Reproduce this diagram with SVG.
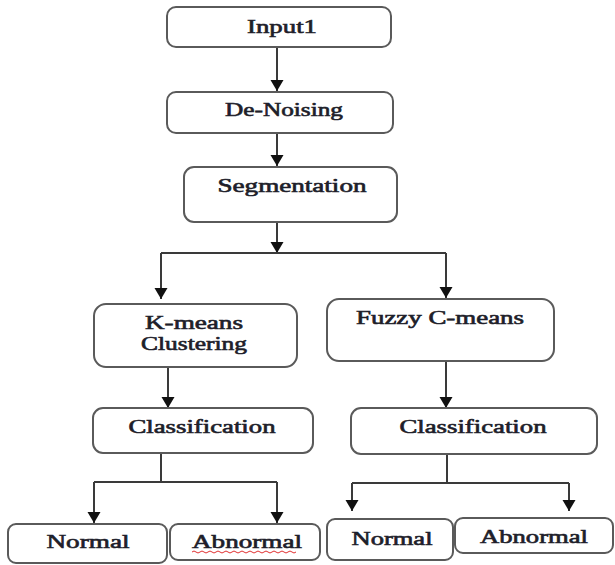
<svg xmlns="http://www.w3.org/2000/svg" width="615" height="565" viewBox="0 0 615 565">
<style>
.box{fill:#fff;stroke:#5a5a5a;stroke-width:2}
.lbl{font-family:"Liberation Serif","Times New Roman",serif;font-size:18px;font-weight:normal;fill:#1e1e2a;stroke:#1e1e2a;stroke-width:0.6;text-anchor:middle}
.con{fill:none;stroke:#3a3a3a;stroke-width:2}
</style>
<defs>
<marker id="ah" markerUnits="userSpaceOnUse" markerWidth="14" markerHeight="14" refX="11" refY="6.5" orient="auto">
<path d="M0,0 L11,6.5 L0,13 z" fill="#111"/>
</marker>
</defs>
<rect width="615" height="565" fill="#fff"/>
<g id="connectors">
<path class="con" d="M277 47 V91" marker-end="url(#ah)"/>
<path class="con" d="M277 133 V166" marker-end="url(#ah)"/>
<path class="con" d="M277 222 V253" marker-end="url(#ah)"/>
<path class="con" d="M161 253 H446"/>
<path class="con" d="M161 253 V299" marker-end="url(#ah)"/>
<path class="con" d="M446 253 V298" marker-end="url(#ah)"/>
<path class="con" d="M168 367 V408" marker-end="url(#ah)"/>
<path class="con" d="M446 361 V408" marker-end="url(#ah)"/>
<path class="con" d="M161 453 V482"/>
<path class="con" d="M94 482 H277"/>
<path class="con" d="M94 482 V523" marker-end="url(#ah)"/>
<path class="con" d="M277 482 V523" marker-end="url(#ah)"/>
<path class="con" d="M447 454 V483"/>
<path class="con" d="M352 483 H569"/>
<path class="con" d="M352 483 V511" marker-end="url(#ah)"/>
<path class="con" d="M569 483 V511" marker-end="url(#ah)"/>
</g>
<g id="input1">
<rect class="box" x="167" y="7" width="224" height="40" rx="9"/>
<text class="lbl" x="282" y="33" textLength="70" lengthAdjust="spacingAndGlyphs">Input1</text>
</g>
<g id="denoising">
<rect class="box" x="167" y="92" width="226" height="41" rx="9"/>
<text class="lbl" x="284" y="116" textLength="118" lengthAdjust="spacingAndGlyphs">De-Noising</text>
</g>
<g id="segmentation">
<rect class="box" x="184" y="167" width="213" height="55" rx="10"/>
<text class="lbl" x="292" y="192" textLength="149" lengthAdjust="spacingAndGlyphs">Segmentation</text>
</g>
<g id="kmeans">
<rect class="box" x="94" y="304" width="203" height="63" rx="12"/>
<text class="lbl" x="194" y="329" textLength="98" lengthAdjust="spacingAndGlyphs">K-means</text>
<text class="lbl" x="194" y="350" textLength="106" lengthAdjust="spacingAndGlyphs">Clustering</text>
</g>
<g id="fuzzy">
<rect class="box" x="327" y="299" width="227" height="62" rx="12"/>
<text class="lbl" x="440" y="324" textLength="168" lengthAdjust="spacingAndGlyphs">Fuzzy C-means</text>
</g>
<g id="class-left">
<rect class="box" x="93" y="408" width="220" height="45" rx="10"/>
<text class="lbl" x="202" y="433" textLength="147" lengthAdjust="spacingAndGlyphs">Classification</text>
</g>
<g id="class-right">
<rect class="box" x="351" y="408" width="246" height="46" rx="10"/>
<text class="lbl" x="473" y="433" textLength="147" lengthAdjust="spacingAndGlyphs">Classification</text>
</g>
<g id="normal-left">
<rect class="box" x="8" y="524" width="159" height="39" rx="8"/>
<text class="lbl" x="88" y="548" textLength="83" lengthAdjust="spacingAndGlyphs">Normal</text>
</g>
<g id="abnormal-left">
<rect class="box" x="170" y="524" width="150" height="36" rx="8"/>
<text class="lbl" x="247" y="548" textLength="110" lengthAdjust="spacingAndGlyphs">Abnormal</text>
<path d="M192 552 q2 -2 4 0 t4 0 t4 0 t4 0 t4 0 t4 0 t4 0 t4 0 t4 0 t4 0 t4 0 t4 0 t4 0 t4 0 t4 0 t4 0 t4 0 t4 0 t4 0 t4 0 t4 0 t4 0 t4 0 t4 0 t4 0 t4 0" fill="none" stroke="#e03030" stroke-width="1"/>
</g>
<g id="normal-right">
<rect class="box" x="327" y="519" width="126" height="41" rx="8"/>
<text class="lbl" x="392" y="545" textLength="81" lengthAdjust="spacingAndGlyphs">Normal</text>
</g>
<g id="abnormal-right">
<rect class="box" x="455" y="518" width="158" height="35" rx="8"/>
<text class="lbl" x="534" y="543" textLength="108" lengthAdjust="spacingAndGlyphs">Abnormal</text>
</g>
</svg>
